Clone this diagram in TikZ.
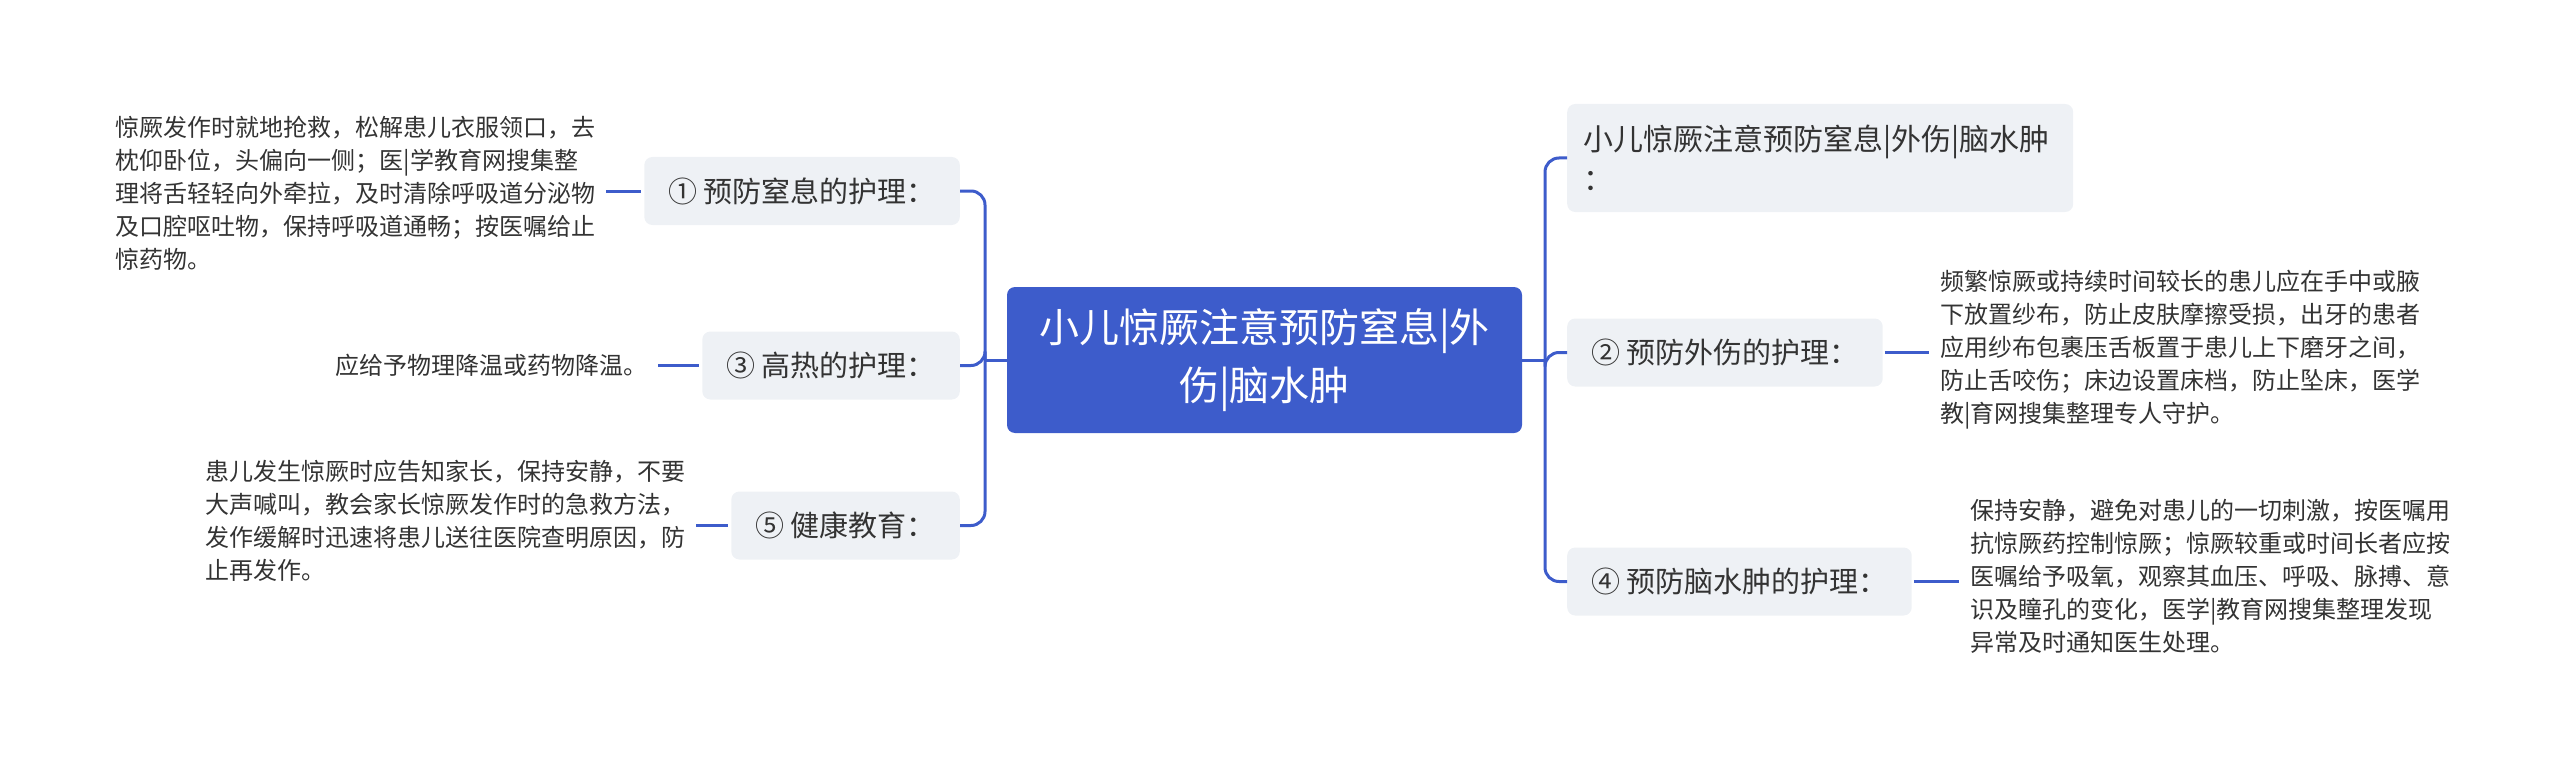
\documentclass[tikz,border=0pt]{standalone}
\usepackage{fontspec}
\newfontfamily\cjk{Noto Sans CJK SC}
\usepackage{tikz}
\usetikzlibrary{positioning}
\definecolor{mapblue}{HTML}{3D5CCB}
\definecolor{topicgrey}{HTML}{EEF1F5}
\definecolor{inkgrey}{HTML}{333333}

\begin{document}
\begin{tikzpicture}[x=1pt, y=-1pt,
          root/.style={fill=mapblue, text=white, rounded corners=8pt, minimum width=515pt, minimum height=146pt, align=center, font=\cjk\fontsize{40}{58}\selectfont},
          topic/.style={fill=topicgrey, text=inkgrey, rounded corners=8pt, minimum height=68pt, inner xsep=24pt, font=\cjk\fontsize{29}{40}\selectfont},
          leaf/.style={text=inkgrey, align=left, inner xsep=8pt, inner ysep=0pt, font=\cjk\fontsize{24}{33}\selectfont},
          link/.style={draw=mapblue, line width=3pt, rounded corners=14pt},
          stub/.style={draw=mapblue, line width=3pt, shorten <=2pt, shorten >=3pt},
        ]
        \useasboundingbox (0,0) rectangle (2560,773);
        \node[root] (root) at (1264.5,360) {小儿惊厥注意预防窒息|外\\伤|脑水肿};
        % left side
        \node[topic, anchor=east] (choke) at (960,191) {① 预防窒息的护理：};
        \node[topic, anchor=east] (fever) at (960,365.5) {③ 高热的护理：};
        \node[topic, anchor=east] (teach) at (960,525.5) {⑤ 健康教育：};
        \node[leaf, anchor=east] (chokenote) at (604,193) {惊厥发作时就地抢救，松解患儿衣服领口，去\\枕仰卧位，头偏向一侧；医|学教育网搜集整\\理将舌轻轻向外牵拉，及时清除呼吸道分泌物\\及口腔呕吐物，保持呼吸道通畅；按医嘱给止\\惊药物。};
        \node[leaf, anchor=east] (fevernote) at (656,365.5) {应给予物理降温或药物降温。};
        \node[leaf, anchor=east] (teachnote) at (694,521) {患儿发生惊厥时应告知家长，保持安静，不要\\大声喊叫，教会家长惊厥发作时的急救方法，\\发作缓解时迅速将患儿送往医院查明原因，防\\止再发作。};
        % right side
        \node[topic, anchor=west, inner xsep=16pt, text width=474pt, align=left, minimum height=108pt, font=\cjk\fontsize{30}{40}\selectfont] (title) at (1567,158) {小儿惊厥注意预防窒息|外伤|脑水肿\\：};
        \node[topic, anchor=west] (hurt) at (1567,352.5) {② 预防外伤的护理：};
        \node[topic, anchor=west] (edema) at (1567,581.5) {④ 预防脑水肿的护理：};
        \node[leaf, anchor=west] (hurtnote) at (1932,350) {频繁惊厥或持续时间较长的患儿应在手中或腋\\下放置纱布，防止皮肤摩擦受损，出牙的患者\\应用纱布包裹压舌板置于患儿上下磨牙之间，\\防止舌咬伤；床边设置床档，防止坠床，医学\\教|育网搜集整理专人守护。};
        \node[leaf, anchor=west] (edemanote) at (1962,576.5) {保持安静，避免对患儿的一切刺激，按医嘱用\\抗惊厥药控制惊厥；惊厥较重或时间长者应按\\医嘱给予吸氧，观察其血压、呼吸、脉搏、意\\识及瞳孔的变化，医学|教育网搜集整理发现\\异常及时通知医生处理。};
        % connectors
        \coordinate (lspine) at (985,360);
        \coordinate (rspine) at (1545,360);
        \draw[link] (root.west) -- (lspine);
        \draw[link] (lspine) |- (choke.east);
        \draw[link] (lspine) |- (fever.east);
        \draw[link] (lspine) |- (teach.east);
        \draw[link] (root.east) -- (rspine);
        \draw[link] (rspine) |- (title.west);
        \draw[link] (rspine) |- (hurt.west);
        \draw[link] (rspine) |- (edema.west);
        \draw[stub] (chokenote.east |- choke.west) -- (choke.west);
        \draw[stub] (fevernote.east) -- (fever.west);
        \draw[stub] (teachnote.east |- teach.west) -- (teach.west);
        \draw[stub] (hurt.east) -- (hurtnote.west |- hurt.east);
        \draw[stub] (edema.east) -- (edemanote.west |- edema.east);
      \end{tikzpicture}
\end{document}
